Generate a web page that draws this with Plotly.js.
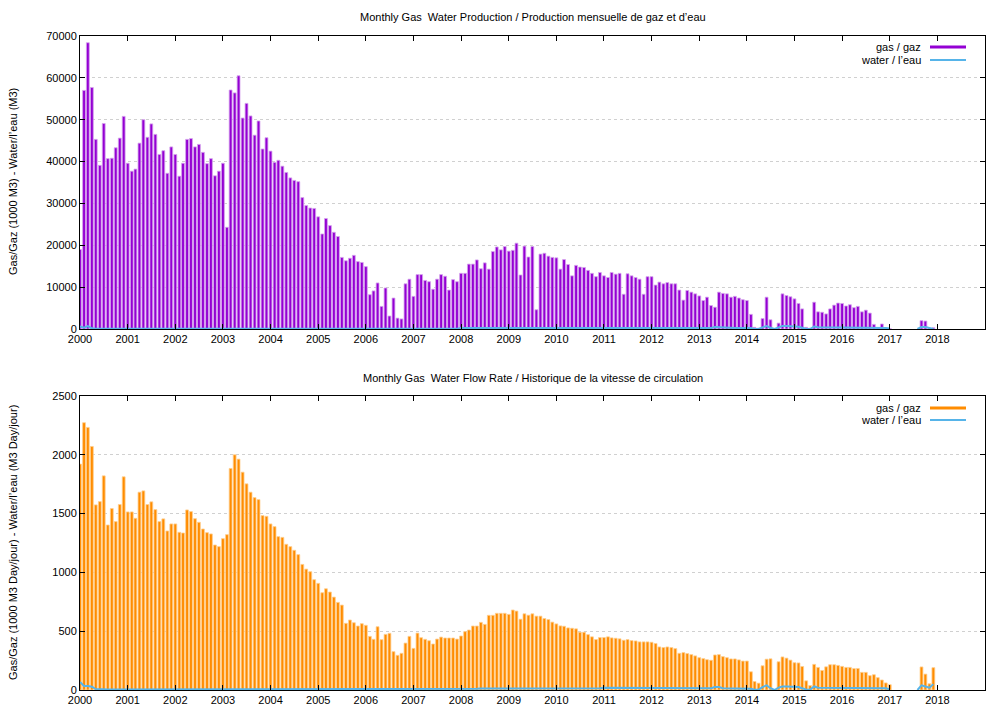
<!DOCTYPE html>
<html>
<head>
<meta charset="utf-8">
<script src="https://cdn.plot.ly/plotly-3.0.1.min.js"></script>
<style>html,body{margin:0;padding:0;background:#fff;}#chart{width:1008px;height:720px;}</style>
</head>
<body>
<div id="chart"></div>
<script>
// ---- data (monthly, Jan 2000 .. Dec 2017) ----
const startYear = 2000;
const monthCount = 216;

const yearTicks = [2000,2001,2002,2003,2004,2005,2006,2007,2008,2009,2010,2011,2012,2013,2014,2015,2016,2017,2018];

// Monthly gas volume (1000 m3)
const gasVolume = [
19000,57000,68400,57700,45300,39100,49100,40700,40800,43300,45600,50800,
39600,37700,38200,44400,50000,45800,49000,46500,41700,42600,37200,43500,
41700,36500,39600,45300,45500,43500,44100,42200,39500,40700,36600,37700,
39600,24300,57100,56400,60500,50400,53900,50900,46300,49700,43000,45700,
42500,39800,40300,38900,37400,36100,35500,35200,31400,29500,28900,28800,
26800,22700,26400,24700,23100,22100,17100,16300,16900,17600,16100,15900,
14900,8200,9100,11000,5400,9800,3100,7400,2600,2400,10800,11900,
7800,13000,13000,11600,11300,9500,11900,13000,12600,9300,11800,11300,
13300,13300,15500,15500,16500,14400,15800,14300,18500,19600,18900,19700,
18600,18800,20500,12900,19800,17200,19700,4600,17900,18100,17400,17100,
17000,14300,16600,15400,12700,15200,14800,14700,14000,13300,12500,13500,
12700,12300,13500,13100,13300,8300,13200,12700,12300,11900,8300,12500,
12500,10500,11200,10800,11100,10800,10800,9300,6900,9200,8800,8400,
7900,6800,7600,5600,5200,8800,8500,8400,7600,7800,7400,7000,
6800,3500,400,200,2500,7600,2200,0,1400,8400,8000,7700,
7200,6100,4800,400,200,6400,4100,4000,3600,4800,5700,6200,
6100,5500,5800,5100,5400,4100,4500,3800,1100,300,1200,200,
100,null,null,null,null,null,null,null,2000,1900,200,300
];

// Monthly water volume (m3)
const waterVolume = [
600,300,700,150,80,60,60,60,60,60,60,60,
60,60,60,60,60,60,60,60,60,60,60,60,
60,60,60,60,60,60,60,60,60,60,60,60,
60,60,60,60,60,60,60,60,60,60,60,60,
60,60,60,60,60,60,60,60,60,60,60,60,
60,60,60,60,60,60,60,60,60,60,60,60,
60,60,60,60,60,60,60,60,60,60,60,60,
60,60,60,60,60,60,60,60,60,60,60,60,
250,250,250,250,250,250,250,250,250,250,250,250,
250,250,250,250,350,250,250,250,250,250,250,250,
250,250,250,250,250,250,250,250,250,250,250,250,
350,350,250,250,250,250,250,250,250,250,250,250,
250,250,250,250,250,250,250,250,250,250,250,250,
250,250,250,250,450,400,250,250,250,250,250,250,
250,250,0,0,400,700,300,0,400,700,700,700,
700,550,300,0,0,600,400,400,400,400,400,400,
400,400,400,400,400,400,400,400,250,250,250,250,
100,null,null,null,null,null,null,0,500,500,200,0
];

// Monthly gas flow rate (1000 m3/day)
const gasRate = [
1921,2273,2233,2071,1574,1602,1821,1403,1543,1432,1577,1813,
1514,1514,1460,1682,1693,1577,1600,1534,1432,1455,1352,1412,
1412,1341,1335,1531,1517,1457,1426,1369,1338,1327,1233,1219,
1287,1321,1884,2000,1963,1852,1753,1682,1636,1619,1483,1477,
1412,1389,1304,1298,1239,1219,1188,1151,1068,1028,1006,938,
907,827,861,833,790,745,722,567,595,572,544,564,
550,456,431,538,428,473,482,326,295,312,399,456,
354,484,445,431,419,391,433,450,442,442,442,433,
459,496,510,544,544,575,558,635,635,652,652,652,
643,680,671,602,648,636,648,628,628,608,599,577,
562,545,542,528,525,520,491,491,471,452,429,446,
446,452,443,440,435,423,429,420,417,409,409,409,
406,395,366,361,366,361,352,312,318,310,301,290,
275,267,258,253,298,301,284,275,264,264,256,246,
246,155,72,58,206,262,265,0,240,281,271,254,
232,230,200,78,38,218,192,166,197,215,215,209,
201,192,192,182,183,150,150,122,130,105,85,60,
45,null,null,null,null,null,null,null,196,135,53,190
];

// Monthly water flow rate (m3/day)
const waterRate = [
68,34,34,28,8,5,5,5,5,5,5,5,
5,5,5,5,5,5,5,5,5,5,5,5,
5,5,5,5,5,5,5,5,5,5,5,5,
5,5,5,5,5,5,5,5,5,5,5,5,
5,5,5,5,5,5,5,5,5,5,5,5,
5,5,5,5,5,5,5,5,5,5,5,5,
5,5,5,5,5,5,5,5,5,5,5,5,
5,5,5,5,5,5,5,5,5,5,5,5,
8,8,10,10,10,12,12,12,14,14,15,15,
15,15,15,15,15,15,15,15,15,15,15,15,
15,15,15,15,15,15,15,15,15,15,15,15,
20,20,15,15,15,15,15,15,15,15,15,15,
15,15,15,15,15,15,15,15,15,15,15,15,
15,15,15,15,25,25,15,15,15,15,15,15,
11,11,3,3,25,40,15,0,20,30,30,30,
30,25,15,5,3,30,20,20,20,20,20,20,
20,20,20,20,20,20,20,20,15,15,15,15,
5,null,null,null,null,null,null,0,40,30,20,50
];

// ---- build month dates ----
const months = [];
for (let i = 0; i < monthCount; i++) {
  const y = startYear + Math.floor(i / 12);
  const m = (i % 12) + 1;
  months.push(y + '-' + String(m).padStart(2, '0') + '-01');
}
const tickVals = yearTicks.map(y => y + '-01-01');
const tickText = yearTicks.map(String);

const FONT = 'Liberation Sans, Arial, Helvetica, sans-serif';
const PURPLE = '#9400d3';
const ORANGE = '#ff8c00';
const BLUE = '#56b4e9';

const traces = [
  {type:'bar', x:months, y:gasVolume, xaxis:'x', yaxis:'y',
   marker:{color:PURPLE, line:{color:'#d6a4ee', width:0.8}}, name:'gas / gaz', showlegend:false, cliponaxis:false},
  {type:'scatter', mode:'lines', x:months, y:waterVolume, xaxis:'x', yaxis:'y',
   line:{color:BLUE, width:2}, connectgaps:false, name:'water / l\u2019eau', showlegend:false},
  {type:'bar', x:months, y:gasRate, xaxis:'x2', yaxis:'y2',
   marker:{color:ORANGE, line:{color:'#ffcf8f', width:0.8}}, name:'gas / gaz', showlegend:false, cliponaxis:false},
  {type:'scatter', mode:'lines', x:months, y:waterRate, xaxis:'x2', yaxis:'y2',
   line:{color:BLUE, width:2}, connectgaps:false, name:'water / l\u2019eau', showlegend:false}
];

function xAxis(anchor) {
  return {
    anchor: anchor, domain:[0,1], type:'date',
    range:['2000-01-01','2019-01-01'],
    tickmode:'array', tickvals:tickVals, ticktext:tickText,
    ticks:'inside', ticklen:5, tickcolor:'#000', tickwidth:1,
    showline:true, linecolor:'#000', linewidth:1, mirror:'ticks',
    showgrid:false, zeroline:false,
    tickfont:{family:FONT, size:11, color:'#000'}
  };
}
function yAxis(anchor, domain, max, dtick) {
  return {
    anchor: anchor, domain: domain, range:[0,max], dtick:dtick, tick0:0,
    tickformat:'d',
    ticks:'inside', ticklen:5, tickcolor:'#000', tickwidth:1,
    showline:true, linecolor:'#000', linewidth:1, mirror:'ticks',
    showgrid:true, gridcolor:'#d0d0d0', griddash:'3px,3px', gridwidth:1,
    zeroline:false,
    tickfont:{family:FONT, size:11, color:'#000'}
  };
}

const txt = (s, x, y, opts) => Object.assign({
  text:s, x:x, y:y, xref:'paper', yref:'paper', showarrow:false,
  font:{family:FONT, size:11, color:'#000'}
}, opts || {});

const lx0 = (930-80)/905, lx1 = (966-80)/905, ltx = (923-80)/905;

const layout = {
  width:1008, height:720,
  margin:{l:80, r:23, t:0, b:0},
  paper_bgcolor:'#fff', plot_bgcolor:'#fff',
  bargap:0.22,
  showlegend:false,
  xaxis: xAxis('y'),
  yaxis: yAxis('x', [1-329/720, 1-36/720], 70000, 10000),
  xaxis2: xAxis('y2'),
  yaxis2: yAxis('x2', [1-690/720, 1-396/720], 2500, 500),
  annotations:[
    txt('Monthly Gas\u00a0 Water Production / Production mensuelle de gaz et d\u2019eau', 0.5, 1-17/720, {xanchor:'center', yanchor:'middle'}),
    txt('Monthly Gas\u00a0 Water Flow Rate / Historique de la vitesse de circulation', 0.5, 1-378/720, {xanchor:'center', yanchor:'middle'}),
    txt('Gas/Gaz (1000 M3) - Water/l\u2019eau (M3)', (13-80)/905, 1-182/720, {textangle:-90, xanchor:'center', yanchor:'middle'}),
    txt('Gas/Gaz (1000 M3 Day/jour) - Water/l\u2019eau (M3 Day/jour)', (13-80)/905, 1-543/720, {textangle:-90, xanchor:'center', yanchor:'middle'}),
    txt('gas / gaz', ltx, 1-47/720, {xanchor:'right', yanchor:'middle'}),
    txt('water / l\u2019eau', ltx, 1-60/720, {xanchor:'right', yanchor:'middle'}),
    txt('gas / gaz', ltx, 1-408/720, {xanchor:'right', yanchor:'middle'}),
    txt('water / l\u2019eau', ltx, 1-420/720, {xanchor:'right', yanchor:'middle'})
  ],
  shapes:[
    {type:'line', xref:'paper', yref:'paper', x0:lx0, x1:lx1, y0:1-47/720, y1:1-47/720, line:{color:PURPLE, width:3}},
    {type:'line', xref:'paper', yref:'paper', x0:lx0, x1:lx1, y0:1-60/720, y1:1-60/720, line:{color:BLUE, width:2}},
    {type:'line', xref:'paper', yref:'paper', x0:lx0, x1:lx1, y0:1-408/720, y1:1-408/720, line:{color:ORANGE, width:3}},
    {type:'line', xref:'paper', yref:'paper', x0:lx0, x1:lx1, y0:1-420/720, y1:1-420/720, line:{color:BLUE, width:2}}
  ]
};

Plotly.newPlot('chart', traces, layout, {staticPlot:true, displayModeBar:false});
</script>
</body>
</html>
